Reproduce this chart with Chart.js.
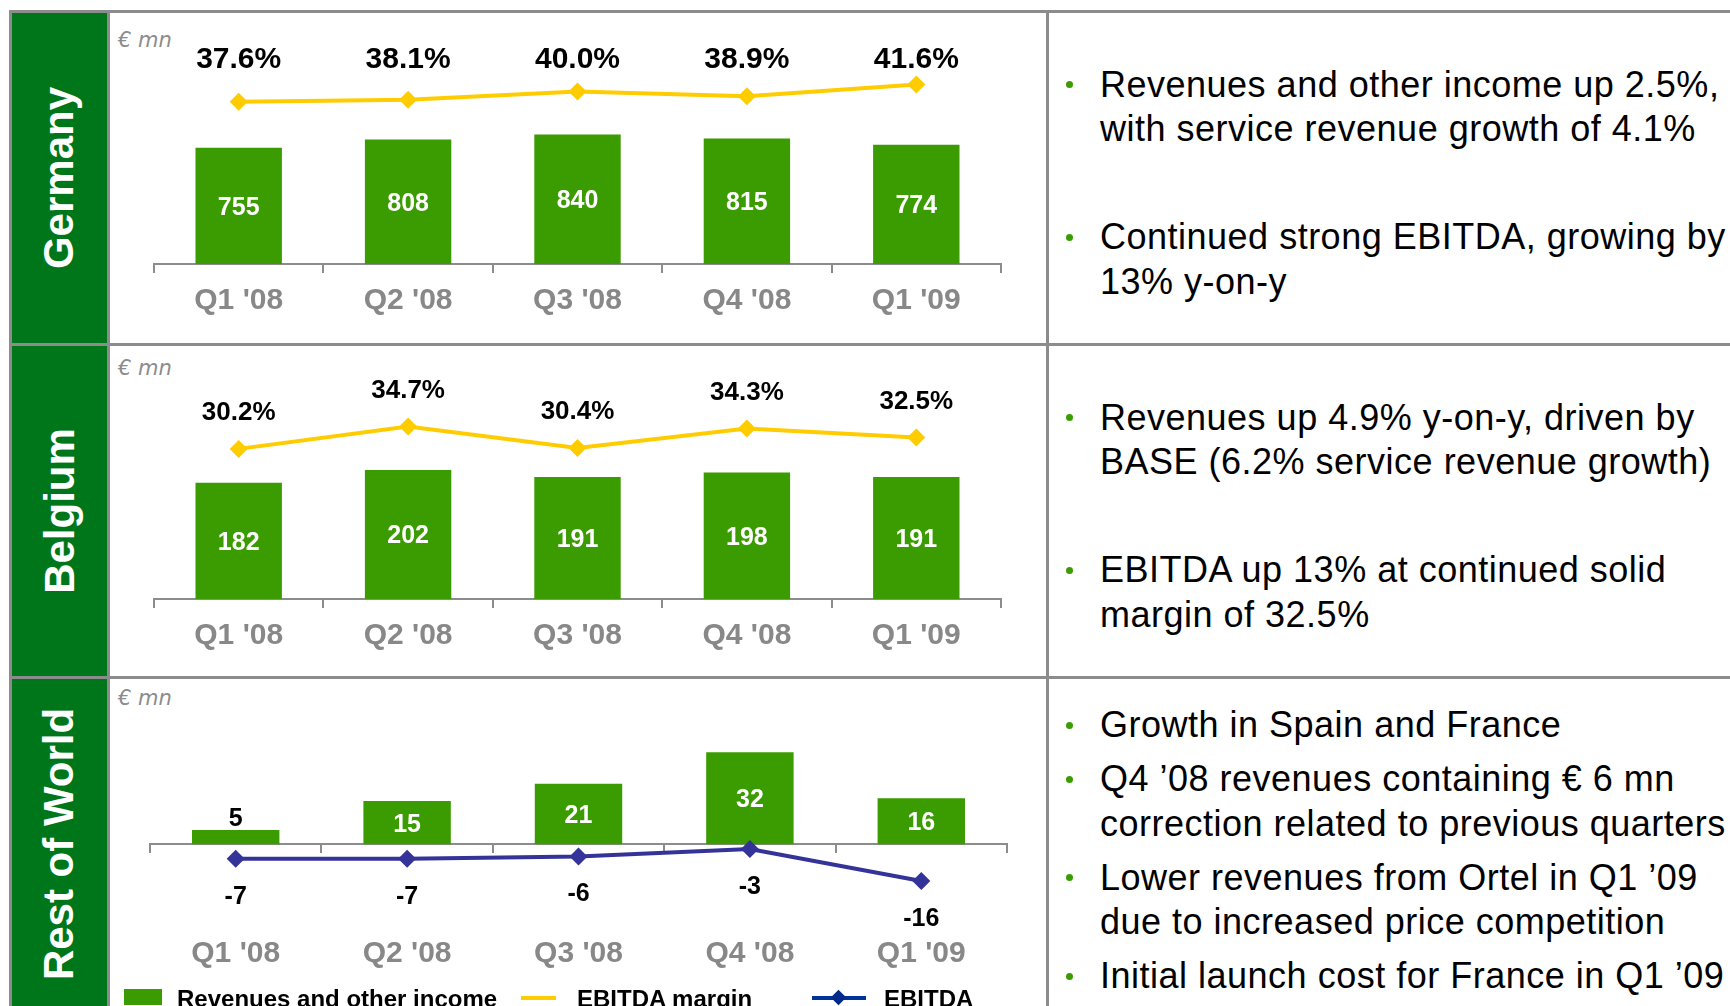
<!DOCTYPE html>
<html>
<head>
<meta charset="utf-8">
<script src="https://cdn.jsdelivr.net/npm/chart.js@4"></script>
<style>
html, body { margin: 0; padding: 0; background: #fff; }
body { width: 1730px; height: 1006px; overflow: hidden; position: relative; font-family: "Liberation Sans", Arial, sans-serif; }
.grid { position: absolute; left: 9px; top: 10px; display: grid; grid-template-columns: 95px 936px 720px; grid-template-rows: 330px 330px 330px; gap: 3px; padding: 3px 0 0 3px; background: #8c8c8c; }
.band { background: #00761a; display: flex; align-items: center; justify-content: center; overflow: hidden; }
.band span { color: #fff; font-weight: bold; font-size: 42px; white-space: nowrap; transform: rotate(-90deg); }
.chart { background: #fff; position: relative; }
.chart canvas { position: absolute; left: 0; top: 0; }
.unit { position: absolute; left: 8px; font-style: italic; font-size: 21px; line-height: 21px; color: #8c8c8c; font-family: "DejaVu Sans", sans-serif; }
.notes { background: #fff; position: relative; overflow: hidden; font-size: 36px; letter-spacing: 0.5px; line-height: 44.5px; white-space: nowrap; padding-top: 49.5px; box-sizing: border-box; }
.notes p { margin: 0; position: relative; padding-left: 51px; }
.notes p + p { margin-top: 63.5px; }
.notes.tight { padding-top: 24px; }
.notes.tight p + p { margin-top: 9.5px; }
.notes p::before { content: ''; position: absolute; left: 16.5px; top: 18.5px; width: 7px; height: 7px; border-radius: 50%; background: #3a9c00; }
.lg { position: absolute; }
.lg.txt { top: 308px; font-weight: bold; font-size: 24px; line-height: 24px; color: #000; white-space: nowrap; }
</style>
</head>
<body>
<div class="grid">
  <div class="band"><span>Germany</span></div>
  <div class="chart">
    <span class="unit" style="top:17px">€ mn</span>
    <canvas id="germany" width="936" height="330"></canvas>
  </div>
  <div class="notes">
    <p>Revenues and other income up 2.5%,<br>with service revenue growth of 4.1%</p>
    <p>Continued strong EBITDA, growing by<br>13% y-on-y</p>
  </div>

  <div class="band"><span>Belgium</span></div>
  <div class="chart">
    <span class="unit" style="top:12px">€ mn</span>
    <canvas id="belgium" width="936" height="330"></canvas>
  </div>
  <div class="notes">
    <p>Revenues up 4.9% y-on-y, driven by<br>BASE (6.2% service revenue growth)</p>
    <p>EBITDA up 13% at continued solid<br>margin of 32.5%</p>
  </div>

  <div class="band"><span>Rest of World</span></div>
  <div class="chart">
    <span class="unit" style="top:9px">€ mn</span>
    <canvas id="row" width="936" height="330"></canvas>
    <div class="lg" style="left:14px;top:310px;width:38px;height:16px;background:#3a9c00"></div>
    <div class="lg txt" style="left:67px">Revenues and other income</div>
    <div class="lg" style="left:411px;top:317px;width:35px;height:4px;background:#ffcc00"></div>
    <div class="lg txt" style="left:467px">EBITDA margin</div>
    <div class="lg" style="left:702px;top:317px;width:54px;height:4px;background:#003399"></div>
    <div class="lg" style="left:723px;top:313px;width:11px;height:11px;background:#002a8a;transform:rotate(45deg)"></div>
    <div class="lg txt" style="left:774px">EBITDA</div>
  </div>
  <div class="notes tight">
    <p>Growth in Spain and France</p>
    <p>Q4 ’08 revenues containing € 6 mn<br>correction related to previous quarters</p>
    <p>Lower revenues from Ortel in Q1 ’09<br>due to increased price competition</p>
    <p>Initial launch cost for France in Q1 ’09</p>
  </div>
</div>

<script>
const quarters = ["Q1 '08", "Q2 '08", "Q3 '08", "Q4 '08", "Q1 '09"];

const germanyRevenue = [755, 808, 840, 815, 774];
const germanyMargin = [37.6, 38.1, 40.0, 38.9, 41.6];

const belgiumRevenue = [182, 202, 191, 198, 191];
const belgiumMargin = [30.2, 34.7, 30.4, 34.3, 32.5];

const rowRevenue = [5, 15, 21, 32, 16];
const rowEbitda = [-7, -7, -6, -3, -16];

const FONT = '"Liberation Sans", Arial, sans-serif';
const BAR_GREEN = '#3a9c00';
const GREY = '#8c8c8c';

// draws the numbers on bars and points
const valueLabels = {
    id: 'valueLabels',
    afterDatasetsDraw(chart) {
        const ctx = chart.ctx;
        chart.data.datasets.forEach((ds, i) => {
            const lab = ds.valueLabel;
            if (!lab) return;
            const meta = chart.getDatasetMeta(i);
            meta.data.forEach((el, j) => {
                const v = ds.data[j];
                const txt = lab.format ? lab.format(v) : String(v);
                let y, color = lab.color || '#000';
                if (lab.mode === 'inside') {
                    const h = Math.abs(el.base - el.y);
                    if (h < 30) { y = el.y - 13; color = '#000'; }
                    else y = (el.y + el.base) / 2;
                } else if (lab.mode === 'fixed') {
                    y = chart.chartArea.top + lab.y;
                } else {
                    y = el.y + lab.offset;
                }
                ctx.save();
                ctx.font = 'bold ' + lab.size + 'px ' + FONT;
                ctx.fillStyle = color;
                ctx.textAlign = 'center';
                ctx.textBaseline = 'middle';
                ctx.fillText(txt, el.x, y + 2);
                ctx.restore();
            });
        });
    }
};

// lineHeight pushes the labels down without widening the side padding
function xAxis(lineHeight) {
    return {
        position: { y: 0 },
        afterFit: s => { s.height = 0; },
        grid: { display: true, drawOnChartArea: false, drawTicks: true, tickLength: 8, color: GREY, lineWidth: 2, offset: true },
        border: { display: true, color: GREY, width: 2 },
        ticks: {
            color: '#888888',
            font: { family: FONT, size: 30, weight: 'bold', lineHeight: lineHeight },
            padding: 13.5, maxRotation: 0, autoSkip: false
        }
    };
}

function makeChart(id, datasets, padding, tickLH, yRange, y2Range) {
    return new Chart(document.getElementById(id), {
        type: 'bar',
        data: { labels: quarters, datasets: datasets },
        options: {
            responsive: false,
            animation: false,
            layout: { padding: padding, autoPadding: false },
            plugins: { legend: { display: false }, tooltip: { enabled: false } },
            scales: {
                x: xAxis(tickLH),
                y: { display: false, min: yRange[0], max: yRange[1] },
                y2: { display: false, position: 'right', min: y2Range[0], max: y2Range[1] }
            }
        },
        plugins: [valueLabels]
    });
}

function barSet(data) {
    return {
        type: 'bar', data: data, backgroundColor: BAR_GREEN,
        categoryPercentage: 1, barPercentage: 0.51, order: 2, yAxisID: 'y',
        valueLabel: { mode: 'inside', size: 25, color: '#fff' }
    };
}

function lineSet(data, color, label) {
    return {
        type: 'line', data: data, yAxisID: 'y2', order: 1,
        borderColor: color, borderWidth: 4, tension: 0,
        pointStyle: 'rectRot', pointRadius: 9, pointBackgroundColor: color,
        pointBorderColor: color, pointBorderWidth: 0,
        valueLabel: label
    };
}

makeChart('germany', [
    barSet(germanyRevenue),
    lineSet(germanyMargin, '#ffcc00', { mode: 'fixed', y: 44.5, size: 30, format: v => v.toFixed(1) + '%' })
], { left: 44, right: 45, top: 0, bottom: 79 }, 1, [0, 1629], [0, 58.2]);

makeChart('belgium', [
    barSet(belgiumRevenue),
    lineSet(belgiumMargin, '#ffcc00', { mode: 'offset', offset: -38, size: 26, format: v => v.toFixed(1) + '%' })
], { left: 44, right: 45, top: 0, bottom: 77 }, 1, [0, 396], [0, 50.9]);

makeChart('row', [
    barSet(rowRevenue),
    lineSet(rowEbitda, '#333399', { mode: 'offset', offset: 36, size: 25 })
], { left: 40, right: 39, top: 0, bottom: 80 }, 5.83, [-29.4, 57.4], [-35.5, 66.1]);
</script>
</body>
</html>
